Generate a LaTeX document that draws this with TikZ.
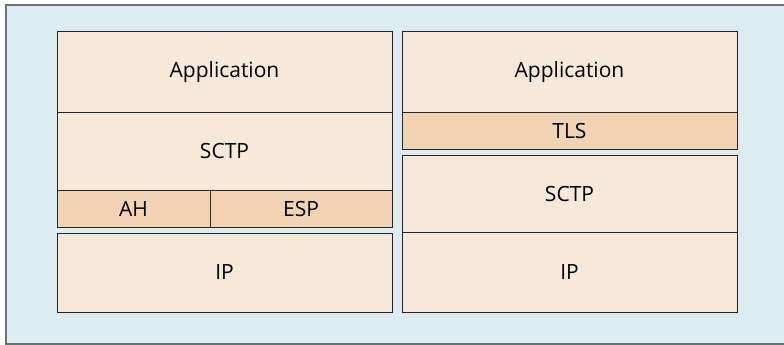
\documentclass[tikz,border=0pt]{standalone}
\usepackage{fontspec}
\setmainfont{Open Sans}
\definecolor{panelbg}{HTML}{DDECF0}
\definecolor{framegray}{HTML}{6D7275}
\definecolor{layerlight}{HTML}{F7E9DA}
\definecolor{layerdark}{HTML}{F2D3B3}
\tikzset{
  layer/.style={draw=black!85, line width=1pt, fill=layerlight, inner sep=0pt,
    minimum width=335pt, font=\fontsize{21}{24}\selectfont},
  seclayer/.style={layer, fill=layerdark}
}

\begin{document}
\begin{tikzpicture}[x=1pt,y=-1pt]
      \useasboundingbox (0,0) rectangle (784,345);
      \clip (0,0) rectangle (784,345);
      % outer panel
      \fill[panelbg] (6,5) rectangle (800,344);
      \draw[framegray,line width=2pt] (800,5) -- (6,5) -- (6,344) -- (800,344);
      % left stack: SCTP over IPsec
      \node[layer,minimum height=80pt] (lapp) at (224.5,72) {Application};
      \node[layer,minimum height=78pt] (lsctp) at (224.5,151) {SCTP};
      \node[seclayer,minimum width=153pt,minimum height=37pt] (lah) at (133.5,208.5) {AH};
      \node[seclayer,minimum width=182pt,minimum height=37pt] (lesp) at (301,208.5) {ESP};
      \node[layer,minimum height=79pt] (lip) at (224.5,272.5) {IP};
      % right stack: TLS over SCTP
      \node[layer,minimum height=80pt] (rapp) at (569.5,72) {Application};
      \node[seclayer,minimum height=37pt] (rtls) at (569.5,130.5) {TLS};
      \node[layer,minimum height=77pt] (rsctp) at (569.5,193.5) {SCTP};
      \node[layer,minimum height=80pt] (rip) at (569.5,272) {IP};
\end{tikzpicture}
\end{document}
